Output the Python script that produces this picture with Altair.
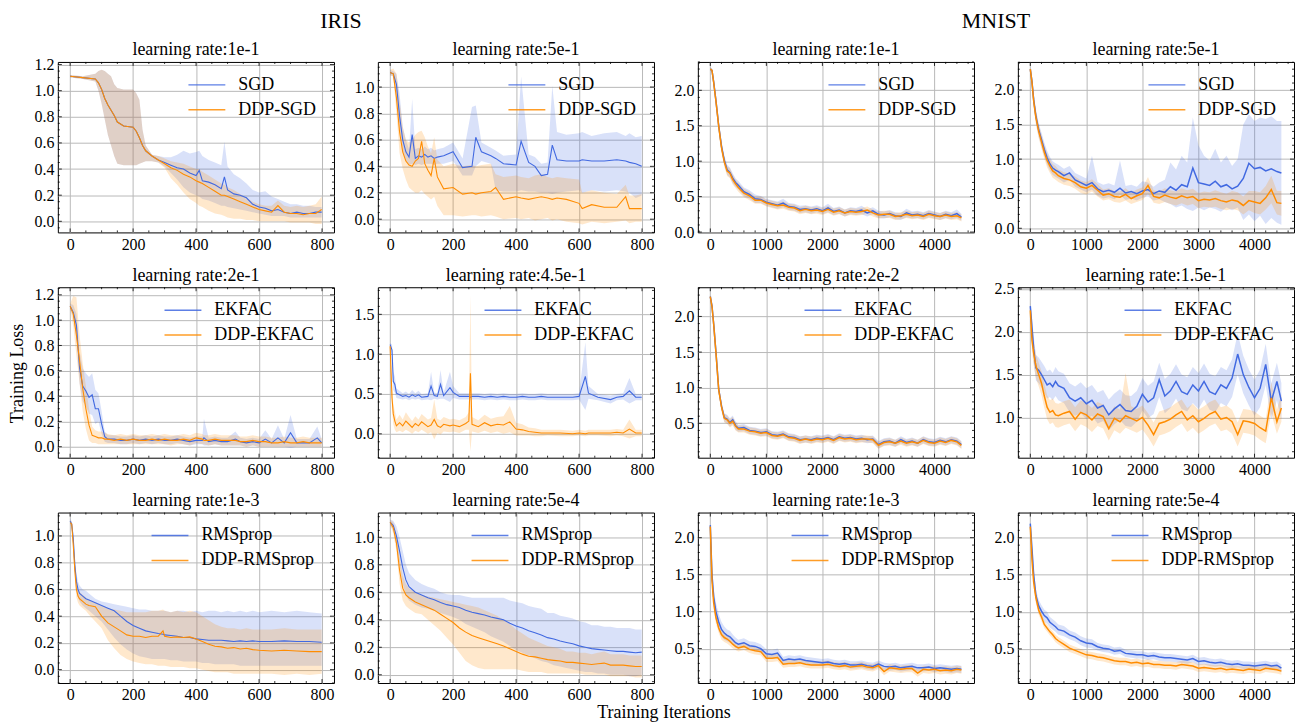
import altair as alt
import pandas as pd

FONT = "Liberation Serif"
BLUE = "#4169E1"
ORANGE = "#FF8C00"

IRIS_XDOM = [-39, 838]
MNIST_XDOM = [-222, 4705]
IRIS_XTICKS = [0, 200, 400, 600, 800]
MNIST_XTICKS = [0, 1000, 2000, 3000, 4000]

MNIST_X = [0, 30, 60, 100, 150, 200, 250, 300, 350, 400, 450,
           500, 600, 700, 800, 900, 1000, 1100, 1200, 1300, 1400,
           1500, 1600, 1700, 1800, 1900, 2000, 2100, 2200, 2300, 2400,
           2500, 2600, 2700, 2800, 2900, 3000, 3100, 3200, 3300, 3400,
           3500, 3600, 3700, 3800, 3900, 4000, 4100, 4200, 4300, 4400,
           4480]

# ---------------- IRIS / SGD, lr 1e-1 ----------------
P1_X = [0, 40, 80, 90, 100, 110, 120, 130, 140, 150, 170, 200, 210, 220, 230, 240, 260, 280,
        300, 320, 340, 360, 380, 400, 410, 420, 440, 460, 480, 490, 500, 520, 540, 560, 580,
        600, 620, 640, 660, 680, 700, 720, 740, 760, 780, 799]
P1_A = [1.11, 1.10, 1.09, 1.06, 1.01, 0.94, 0.89, 0.85, 0.81, 0.76, 0.73, 0.72, 0.69, 0.64, 0.58,
        0.54, 0.50, 0.47, 0.45, 0.43, 0.41, 0.40, 0.37, 0.35, 0.39, 0.31, 0.30, 0.28, 0.25, 0.34,
        0.24, 0.21, 0.20, 0.18, 0.13, 0.11, 0.10, 0.08, 0.09, 0.07, 0.06, 0.07, 0.06, 0.06, 0.07, 0.07]
P1_A_LO = [1.10, 1.09, 1.07, 1.00, 0.90, 0.78, 0.66, 0.58, 0.50, 0.44, 0.43, 0.43, 0.43, 0.44, 0.45,
           0.46, 0.46, 0.45, 0.42, 0.37, 0.32, 0.26, 0.22, 0.20, 0.19, 0.17, 0.16, 0.14, 0.12, 0.12,
           0.11, 0.10, 0.09, 0.08, 0.07, 0.06, 0.05, 0.04, 0.04, 0.04, 0.03, 0.03, 0.03, 0.03, 0.03, 0.03]
P1_A_HI = [1.12, 1.11, 1.13, 1.15, 1.16, 1.15, 1.13, 1.11, 1.05, 1.02, 1.01, 1.01, 0.98, 0.93, 0.70,
           0.58, 0.51, 0.50, 0.49, 0.49, 0.51, 0.54, 0.52, 0.53, 0.54, 0.50, 0.47, 0.45, 0.43, 0.61,
           0.42, 0.36, 0.33, 0.29, 0.24, 0.22, 0.23, 0.19, 0.17, 0.15, 0.13, 0.13, 0.12, 0.12, 0.11, 0.11]
P1_B = [1.11, 1.10, 1.09, 1.06, 1.01, 0.94, 0.89, 0.85, 0.81, 0.76, 0.73, 0.72, 0.69, 0.64, 0.58,
        0.54, 0.50, 0.47, 0.44, 0.41, 0.39, 0.36, 0.34, 0.31, 0.30, 0.29, 0.26, 0.23, 0.20, 0.20,
        0.19, 0.17, 0.15, 0.13, 0.11, 0.09, 0.08, 0.07, 0.12, 0.07, 0.06, 0.06, 0.05, 0.06, 0.06, 0.09]
P1_B_LO = [1.10, 1.09, 1.07, 1.00, 0.90, 0.78, 0.66, 0.58, 0.50, 0.44, 0.43, 0.43, 0.43, 0.44, 0.45,
           0.46, 0.46, 0.45, 0.41, 0.33, 0.28, 0.22, 0.17, 0.14, 0.12, 0.11, 0.08, 0.06, 0.05, 0.04,
           0.03, 0.02, 0.02, 0.01, 0.01, 0.00, 0.00, 0.00, 0.00, 0.00, -0.01, -0.01, -0.01, -0.01, -0.02, -0.02]
P1_B_HI = [1.12, 1.11, 1.13, 1.15, 1.16, 1.15, 1.13, 1.11, 1.05, 1.02, 1.01, 1.01, 0.98, 0.93, 0.70,
           0.58, 0.51, 0.50, 0.48, 0.46, 0.45, 0.44, 0.42, 0.40, 0.40, 0.38, 0.35, 0.32, 0.29, 0.28,
           0.26, 0.24, 0.21, 0.18, 0.15, 0.13, 0.12, 0.12, 0.16, 0.12, 0.11, 0.12, 0.11, 0.12, 0.13, 0.19]

# ---------------- IRIS / SGD, lr 5e-1 ----------------
P2_X = [0, 10, 20, 30, 40, 50, 60, 70, 80, 90, 100, 110, 120, 130, 140, 150, 170, 200, 230, 260, 272,
        290, 320, 335, 360, 400, 416, 440, 460, 480, 500, 515, 530, 560, 600, 610, 640, 680, 720, 748,
        760, 780, 799]
P2_A = [1.11, 1.10, 1.02, 0.78, 0.60, 0.51, 0.47, 0.64, 0.46, 0.48, 0.47, 0.49, 0.47, 0.48, 0.46, 0.47,
        0.48, 0.51, 0.39, 0.40, 0.62, 0.51, 0.48, 0.46, 0.42, 0.41, 0.59, 0.43, 0.40, 0.33, 0.34,
        0.56, 0.45, 0.44, 0.44, 0.45, 0.44, 0.44, 0.45, 0.44, 0.43, 0.42, 0.40]
P2_A_LO = [1.09, 1.08, 0.95, 0.68, 0.52, 0.44, 0.41, 0.42, 0.41, 0.42, 0.41, 0.42, 0.42, 0.42, 0.41, 0.42,
           0.42, 0.44, 0.33, 0.33, 0.40, 0.44, 0.42, 0.22, 0.21, 0.21, 0.22, 0.21, 0.21, 0.20, 0.20,
           0.19, 0.20, 0.21, 0.22, 0.20, 0.22, 0.21, 0.22, 0.21, 0.20, 0.16, 0.18]
P2_A_HI = [1.13, 1.12, 1.10, 0.95, 0.70, 0.60, 0.53, 0.91, 0.53, 0.54, 0.53, 0.55, 0.53, 0.54, 0.52, 0.53,
           0.54, 0.58, 0.46, 0.85, 0.86, 0.58, 0.54, 0.52, 0.48, 0.49, 1.08, 0.49, 0.47, 0.42, 0.43,
           1.01, 0.66, 0.64, 0.65, 0.66, 0.63, 0.65, 0.66, 0.63, 0.65, 0.62, 0.63]
P2_B = [1.11, 1.10, 0.92, 0.66, 0.51, 0.44, 0.41, 0.40, 0.44, 0.46, 0.59, 0.42, 0.37, 0.33, 0.46, 0.32,
        0.23, 0.24, 0.19, 0.20, 0.19, 0.20, 0.21, 0.24, 0.15, 0.17, 0.16, 0.15, 0.16, 0.17, 0.16,
        0.15, 0.16, 0.15, 0.12, 0.08, 0.11, 0.09, 0.09, 0.17, 0.08, 0.08, 0.08]
P2_B_LO = [1.09, 1.08, 0.80, 0.50, 0.38, 0.30, 0.24, 0.22, 0.20, 0.20, 0.22, 0.19, 0.17, 0.15, 0.17, 0.10,
           0.03, 0.03, 0.02, 0.03, 0.03, 0.02, 0.03, 0.02, 0.00, 0.01, 0.00, 0.01, -0.01, 0.00, 0.01,
           -0.01, 0.00, -0.02, -0.03, -0.04, -0.02, -0.03, -0.02, -0.01, -0.03, -0.02, -0.02]
P2_B_HI = [1.13, 1.14, 1.10, 0.90, 0.70, 0.60, 0.58, 0.60, 0.64, 0.66, 0.67, 0.62, 0.55, 0.50, 0.62, 0.45,
           0.40, 0.42, 0.40, 0.41, 0.40, 0.41, 0.42, 0.34, 0.32, 0.33, 0.32, 0.31, 0.33, 0.34, 0.32,
           0.31, 0.32, 0.31, 0.30, 0.20, 0.22, 0.20, 0.19, 0.26, 0.18, 0.18, 0.19]

# ---------------- MNIST / SGD, lr 1e-1 ----------------
P3_A = [2.30, 2.28, 2.12, 1.86, 1.50, 1.21, 1.01, 0.88, 0.84, 0.76, 0.70,
        0.66, 0.57, 0.53, 0.47, 0.46, 0.42, 0.40, 0.38, 0.41, 0.36,
        0.35, 0.32, 0.33, 0.31, 0.33, 0.30, 0.34, 0.29, 0.31, 0.27,
        0.30, 0.29, 0.31, 0.27, 0.30, 0.25, 0.24, 0.26, 0.23, 0.22,
        0.27, 0.24, 0.25, 0.23, 0.26, 0.24, 0.22, 0.25, 0.23, 0.26, 0.21]
P3_A_LO = [2.28, 2.25, 2.06, 1.79, 1.43, 1.14, 0.94, 0.81, 0.77, 0.69, 0.64,
           0.60, 0.51, 0.47, 0.41, 0.41, 0.37, 0.35, 0.33, 0.35, 0.31,
           0.30, 0.27, 0.28, 0.26, 0.28, 0.25, 0.28, 0.24, 0.26, 0.22,
           0.25, 0.24, 0.25, 0.22, 0.25, 0.20, 0.19, 0.21, 0.18, 0.17,
           0.21, 0.19, 0.20, 0.18, 0.21, 0.19, 0.17, 0.20, 0.18, 0.20, 0.16]
P3_A_HI = [2.32, 2.31, 2.18, 1.93, 1.57, 1.28, 1.08, 0.95, 0.91, 0.83, 0.76,
           0.72, 0.63, 0.59, 0.53, 0.51, 0.47, 0.45, 0.43, 0.47, 0.41,
           0.40, 0.37, 0.38, 0.36, 0.38, 0.35, 0.40, 0.34, 0.36, 0.32,
           0.35, 0.34, 0.37, 0.32, 0.35, 0.30, 0.29, 0.31, 0.28, 0.27,
           0.33, 0.29, 0.30, 0.28, 0.31, 0.29, 0.27, 0.30, 0.28, 0.32, 0.26]
P3_B = [2.30, 2.28, 2.11, 1.85, 1.49, 1.19, 0.99, 0.86, 0.83, 0.74, 0.68,
        0.63, 0.55, 0.51, 0.45, 0.45, 0.41, 0.39, 0.37, 0.38, 0.35,
        0.34, 0.30, 0.32, 0.30, 0.31, 0.29, 0.32, 0.28, 0.30, 0.27,
        0.29, 0.28, 0.29, 0.31, 0.27, 0.24, 0.25, 0.25, 0.22, 0.23,
        0.25, 0.23, 0.24, 0.22, 0.25, 0.23, 0.22, 0.24, 0.22, 0.23, 0.20]
P3_B_LO = [2.28, 2.25, 2.05, 1.78, 1.42, 1.12, 0.92, 0.79, 0.76, 0.67, 0.62,
           0.57, 0.49, 0.45, 0.40, 0.40, 0.36, 0.34, 0.32, 0.33, 0.30,
           0.29, 0.25, 0.27, 0.25, 0.26, 0.24, 0.27, 0.23, 0.25, 0.22,
           0.24, 0.23, 0.24, 0.26, 0.22, 0.19, 0.20, 0.20, 0.17, 0.18,
           0.20, 0.18, 0.19, 0.17, 0.20, 0.18, 0.17, 0.19, 0.17, 0.18, 0.15]
P3_B_HI = [2.32, 2.31, 2.17, 1.92, 1.56, 1.26, 1.06, 0.93, 0.90, 0.81, 0.74,
           0.69, 0.61, 0.57, 0.50, 0.50, 0.46, 0.44, 0.42, 0.43, 0.40,
           0.39, 0.35, 0.37, 0.35, 0.36, 0.34, 0.37, 0.33, 0.35, 0.32,
           0.34, 0.33, 0.34, 0.36, 0.32, 0.29, 0.30, 0.30, 0.27, 0.28,
           0.30, 0.28, 0.29, 0.27, 0.30, 0.28, 0.27, 0.29, 0.27, 0.28, 0.25]

# ---------------- MNIST / SGD, lr 5e-1 ----------------
P4_A = [2.30, 2.12, 1.86, 1.62, 1.42, 1.28, 1.14, 1.02, 0.93, 0.87, 0.84,
        0.82, 0.76, 0.80, 0.70, 0.66, 0.62, 0.66, 0.57, 0.53, 0.55,
        0.52, 0.58, 0.51, 0.53, 0.50, 0.54, 0.56, 0.50, 0.54, 0.52,
        0.60, 0.55, 0.63, 0.60, 0.87, 0.66, 0.64, 0.62, 0.68, 0.60,
        0.63, 0.57, 0.61, 0.72, 0.94, 0.86, 0.88, 0.83, 0.86, 0.82, 0.80]
P4_A_LO = [2.27, 2.04, 1.76, 1.52, 1.32, 1.18, 1.04, 0.92, 0.83, 0.77, 0.74,
           0.72, 0.66, 0.70, 0.60, 0.56, 0.52, 0.56, 0.47, 0.43, 0.45,
           0.42, 0.48, 0.41, 0.43, 0.40, 0.44, 0.46, 0.40, 0.42, 0.38,
           0.35, 0.30, 0.33, 0.28, 0.25, 0.30, 0.26, 0.30, 0.28, 0.24,
           0.30, 0.26, 0.30, 0.12, 0.20, 0.10, 0.18, 0.06, 0.15, 0.08, 0.05]
P4_A_HI = [2.33, 2.20, 1.96, 1.72, 1.52, 1.38, 1.24, 1.12, 1.03, 0.97, 0.94,
           0.92, 0.86, 0.90, 0.80, 0.76, 0.72, 1.05, 0.67, 0.63, 0.65,
           0.62, 0.98, 0.61, 0.63, 0.60, 0.68, 0.66, 0.60, 0.66, 0.70,
           0.95, 0.85, 1.05, 0.95, 1.60, 1.20, 1.05, 0.98, 1.15, 0.95,
           1.05, 0.90, 1.00, 1.50, 1.65, 1.55, 1.60, 1.58, 1.62, 1.55, 1.55]
P4_B = [2.30, 2.11, 1.84, 1.60, 1.40, 1.25, 1.10, 0.98, 0.90, 0.83, 0.80,
        0.76, 0.72, 0.70, 0.66, 0.60, 0.58, 0.62, 0.55, 0.48, 0.50,
        0.46, 0.45, 0.49, 0.43, 0.47, 0.50, 0.62, 0.46, 0.44, 0.48,
        0.45, 0.43, 0.47, 0.44, 0.46, 0.40, 0.42, 0.41, 0.43, 0.40,
        0.38, 0.41, 0.39, 0.33, 0.40, 0.38, 0.36, 0.44, 0.56, 0.37, 0.36]
P4_B_LO = [2.27, 2.03, 1.74, 1.50, 1.30, 1.15, 1.00, 0.88, 0.80, 0.73, 0.70,
           0.67, 0.63, 0.61, 0.57, 0.51, 0.49, 0.53, 0.46, 0.40, 0.42,
           0.38, 0.37, 0.40, 0.35, 0.38, 0.41, 0.50, 0.37, 0.35, 0.38,
           0.35, 0.33, 0.36, 0.33, 0.35, 0.29, 0.31, 0.30, 0.31, 0.28,
           0.26, 0.28, 0.26, 0.20, 0.26, 0.22, 0.20, 0.27, 0.36, 0.20, 0.18]
P4_B_HI = [2.33, 2.19, 1.94, 1.70, 1.50, 1.35, 1.20, 1.08, 1.00, 0.93, 0.90,
           0.85, 0.81, 0.79, 0.75, 0.69, 0.67, 0.71, 0.64, 0.56, 0.58,
           0.54, 0.53, 0.58, 0.51, 0.56, 0.59, 0.74, 0.55, 0.53, 0.58,
           0.55, 0.53, 0.58, 0.55, 0.57, 0.51, 0.53, 0.52, 0.55, 0.52,
           0.50, 0.54, 0.52, 0.46, 0.54, 0.54, 0.52, 0.61, 0.76, 0.54, 0.54]

# ---------------- IRIS / EKFAC, lr 2e-1 ----------------
P5_X = [0, 10, 20, 30, 40, 50, 60, 70, 80, 90, 100, 110, 120, 140, 160, 180, 200, 220, 240, 260,
        280, 300, 320, 340, 360, 380, 400, 420, 425, 440, 460, 480, 500, 525, 540, 560, 580, 600,
        620, 640, 660, 680, 700, 720, 740, 760, 785, 799]
P5_A = [1.11, 1.06, 0.96, 0.62, 0.48, 0.44, 0.39, 0.41, 0.30, 0.30, 0.18, 0.08, 0.06,
        0.06, 0.05, 0.05, 0.06, 0.05, 0.06, 0.05, 0.06, 0.05, 0.05, 0.06, 0.05, 0.04, 0.05,
        0.05, 0.07, 0.04, 0.05, 0.04, 0.04, 0.06, 0.04, 0.03, 0.04, 0.03, 0.06, 0.03, 0.07, 0.03,
        0.11, 0.03, 0.03, 0.03, 0.07, 0.03]
P5_A_LO = [1.09, 1.02, 0.88, 0.50, 0.36, 0.32, 0.26, 0.25, 0.18, 0.20, 0.10, 0.04, 0.03,
           0.03, 0.02, 0.02, 0.03, 0.02, 0.03, 0.02, 0.03, 0.02, 0.02, 0.03, 0.02, 0.01, 0.02,
           0.02, 0.01, 0.01, 0.02, 0.01, 0.01, 0.01, 0.01, 0.00, 0.01, 0.00, 0.00, 0.00, 0.00, 0.00,
           -0.01, 0.00, 0.00, 0.00, 0.00, 0.00]
P5_A_HI = [1.13, 1.12, 1.05, 0.75, 0.62, 0.58, 0.55, 0.58, 0.45, 0.42, 0.28, 0.12, 0.09,
           0.09, 0.08, 0.08, 0.09, 0.08, 0.09, 0.08, 0.09, 0.08, 0.08, 0.09, 0.08, 0.07, 0.08,
           0.08, 0.22, 0.07, 0.08, 0.07, 0.07, 0.12, 0.07, 0.06, 0.07, 0.06, 0.13, 0.06, 0.17, 0.06,
           0.25, 0.06, 0.06, 0.06, 0.16, 0.06]
P5_B = [1.11, 1.05, 0.88, 0.68, 0.46, 0.30, 0.17, 0.09, 0.08, 0.07, 0.07, 0.06, 0.06,
        0.05, 0.06, 0.05, 0.06, 0.05, 0.05, 0.06, 0.05, 0.06, 0.05, 0.05, 0.06, 0.05, 0.07,
        0.06, 0.05, 0.05, 0.06, 0.05, 0.05, 0.05, 0.04, 0.04, 0.05, 0.04, 0.04, 0.03, 0.03, 0.04,
        0.03, 0.03, 0.04, 0.03, 0.03, 0.03]
P5_B_LO = [1.09, 0.95, 0.72, 0.50, 0.28, 0.14, 0.05, 0.03, 0.03, 0.02, 0.02, 0.02, 0.02,
           0.02, 0.02, 0.02, 0.02, 0.02, 0.02, 0.02, 0.02, 0.02, 0.01, 0.02, 0.02, 0.01, 0.03,
           0.02, 0.02, 0.01, 0.02, 0.01, 0.01, 0.01, 0.01, 0.00, 0.01, 0.00, 0.00, 0.00, 0.00, 0.00,
           0.00, 0.00, 0.00, 0.00, 0.00, 0.00]
P5_B_HI = [1.13, 1.19, 1.18, 0.88, 0.66, 0.48, 0.30, 0.16, 0.13, 0.12, 0.12, 0.11, 0.10,
           0.09, 0.10, 0.09, 0.10, 0.09, 0.09, 0.10, 0.09, 0.10, 0.09, 0.09, 0.10, 0.09, 0.11,
           0.10, 0.09, 0.09, 0.10, 0.09, 0.09, 0.09, 0.08, 0.08, 0.09, 0.08, 0.08, 0.07, 0.07, 0.08,
           0.07, 0.07, 0.08, 0.07, 0.07, 0.07]

# ---------------- IRIS / EKFAC, lr 4.5e-1 ----------------
P6_X = [0, 6, 10, 15, 20, 30, 40, 50, 60, 70, 80, 90, 100, 120, 130, 140, 150, 160, 170, 190, 200,
        220, 240, 250, 255, 260, 280, 300, 320, 340, 360, 380, 400, 420, 440, 460, 480, 500, 540,
        580, 600, 620, 630, 660, 700, 720, 740, 760, 780, 799]
P6_A = [1.12, 1.05, 0.66, 0.62, 0.51, 0.49, 0.47, 0.48, 0.46, 0.49, 0.47, 0.49, 0.46,
        0.47, 0.60, 0.48, 0.47, 0.62, 0.48, 0.58, 0.52, 0.47, 0.47, 0.47, 0.46, 0.47, 0.47, 0.46,
        0.47, 0.46, 0.47, 0.46, 0.46, 0.47, 0.46, 0.46, 0.47, 0.46, 0.46, 0.46, 0.47, 0.72, 0.51,
        0.46, 0.43, 0.46, 0.47, 0.54, 0.46, 0.46]
P6_A_LO = [1.10, 0.98, 0.55, 0.52, 0.45, 0.44, 0.43, 0.44, 0.42, 0.44, 0.43, 0.44, 0.42,
           0.43, 0.42, 0.44, 0.43, 0.44, 0.44, 0.40, 0.45, 0.43, 0.43, 0.43, 0.42, 0.43, 0.43, 0.42,
           0.43, 0.42, 0.43, 0.42, 0.42, 0.43, 0.42, 0.42, 0.43, 0.42, 0.42, 0.42, 0.43, 0.30, 0.44,
           0.42, 0.38, 0.42, 0.43, 0.38, 0.42, 0.42]
P6_A_HI = [1.14, 1.12, 0.78, 0.72, 0.57, 0.54, 0.51, 0.53, 0.50, 0.55, 0.51, 0.54, 0.50,
           0.51, 0.78, 0.52, 0.51, 0.80, 0.52, 0.78, 0.60, 0.51, 0.51, 0.51, 0.50, 0.51, 0.51, 0.50,
           0.51, 0.50, 0.51, 0.50, 0.50, 0.51, 0.50, 0.50, 0.51, 0.50, 0.50, 0.50, 0.51, 1.15, 0.60,
           0.50, 0.48, 0.50, 0.51, 0.70, 0.50, 0.50]
P6_B = [1.10, 0.45, 0.25, 0.16, 0.10, 0.14, 0.10, 0.16, 0.12, 0.08, 0.13, 0.10, 0.15,
        0.09, 0.11, 0.18, 0.10, 0.08, 0.12, 0.10, 0.11, 0.09, 0.13, 0.16, 0.76, 0.12, 0.09, 0.14,
        0.10, 0.12, 0.11, 0.15, 0.06, 0.05, 0.03, 0.02, 0.01, 0.01, 0.01, 0.00, 0.01, 0.00, 0.01,
        0.01, 0.01, 0.02, 0.01, 0.06, 0.01, 0.01]
P6_B_LO = [1.08, 0.30, 0.12, 0.05, 0.02, 0.04, 0.02, 0.05, 0.03, 0.00, 0.04, 0.02, 0.05,
           0.00, 0.02, -0.07, 0.01, -0.01, 0.03, 0.02, 0.03, 0.01, 0.05, 0.05, -0.22, 0.03, 0.01, 0.04,
           0.01, 0.03, 0.00, 0.02, -0.02, -0.02, -0.02, -0.03, -0.03, -0.02, -0.03, -0.03, -0.02, -0.03,
           -0.02, -0.02, -0.03, -0.02, -0.03, -0.06, -0.03, -0.03]
P6_B_HI = [1.12, 0.60, 0.38, 0.28, 0.18, 0.24, 0.18, 0.27, 0.21, 0.16, 0.22, 0.18, 0.25,
           0.18, 0.20, 0.43, 0.19, 0.17, 0.21, 0.18, 0.19, 0.17, 0.21, 0.27, 1.75, 0.21, 0.17, 0.24,
           0.19, 0.21, 0.22, 0.35, 0.14, 0.12, 0.08, 0.07, 0.05, 0.05, 0.05, 0.04, 0.05, 0.04, 0.05,
           0.05, 0.05, 0.06, 0.05, 0.18, 0.05, 0.05]

# ---------------- MNIST / EKFAC, lr 2e-2 ----------------
P7_A = [2.28, 2.15, 1.90, 1.51, 0.98, 0.74, 0.58, 0.56, 0.51, 0.55, 0.47,
        0.43, 0.44, 0.40, 0.39, 0.37, 0.38, 0.34, 0.33, 0.35, 0.31,
        0.30, 0.27, 0.28, 0.27, 0.29, 0.28, 0.30, 0.27, 0.31, 0.29,
        0.30, 0.28, 0.29, 0.27, 0.28, 0.20, 0.24, 0.25, 0.22, 0.27,
        0.23, 0.25, 0.22, 0.27, 0.24, 0.23, 0.26, 0.24, 0.27, 0.25, 0.20]
P7_A_LO = [2.26, 2.11, 1.84, 1.44, 0.92, 0.68, 0.52, 0.50, 0.45, 0.49, 0.41,
           0.38, 0.39, 0.35, 0.34, 0.32, 0.33, 0.29, 0.28, 0.30, 0.26,
           0.25, 0.22, 0.23, 0.22, 0.24, 0.23, 0.25, 0.22, 0.26, 0.24,
           0.25, 0.23, 0.24, 0.22, 0.23, 0.15, 0.19, 0.20, 0.17, 0.22,
           0.18, 0.20, 0.17, 0.22, 0.19, 0.18, 0.21, 0.19, 0.22, 0.20, 0.15]
P7_A_HI = [2.30, 2.19, 1.96, 1.58, 1.04, 0.80, 0.64, 0.62, 0.57, 0.61, 0.53,
           0.48, 0.49, 0.45, 0.44, 0.42, 0.43, 0.39, 0.38, 0.40, 0.36,
           0.35, 0.32, 0.33, 0.32, 0.34, 0.33, 0.35, 0.32, 0.36, 0.34,
           0.35, 0.33, 0.34, 0.32, 0.33, 0.25, 0.29, 0.30, 0.27, 0.32,
           0.28, 0.30, 0.27, 0.32, 0.29, 0.28, 0.31, 0.29, 0.32, 0.30, 0.25]
P7_B = [2.28, 2.14, 1.89, 1.50, 0.97, 0.73, 0.57, 0.55, 0.50, 0.53, 0.46,
        0.42, 0.42, 0.39, 0.38, 0.36, 0.37, 0.33, 0.32, 0.34, 0.30,
        0.29, 0.26, 0.28, 0.26, 0.28, 0.27, 0.29, 0.26, 0.30, 0.28,
        0.29, 0.27, 0.28, 0.28, 0.27, 0.19, 0.23, 0.24, 0.22, 0.25,
        0.22, 0.24, 0.22, 0.26, 0.23, 0.22, 0.25, 0.23, 0.26, 0.24, 0.19]
P7_B_LO = [2.26, 2.10, 1.83, 1.43, 0.91, 0.67, 0.51, 0.49, 0.44, 0.47, 0.40,
           0.37, 0.37, 0.34, 0.33, 0.31, 0.32, 0.28, 0.27, 0.29, 0.25,
           0.24, 0.21, 0.23, 0.21, 0.23, 0.22, 0.24, 0.21, 0.25, 0.23,
           0.24, 0.22, 0.23, 0.23, 0.22, 0.14, 0.18, 0.19, 0.17, 0.20,
           0.17, 0.19, 0.17, 0.21, 0.18, 0.17, 0.20, 0.18, 0.21, 0.19, 0.14]
P7_B_HI = [2.30, 2.18, 1.95, 1.57, 1.03, 0.79, 0.63, 0.61, 0.56, 0.59, 0.52,
           0.47, 0.47, 0.44, 0.43, 0.41, 0.42, 0.38, 0.37, 0.39, 0.35,
           0.34, 0.31, 0.33, 0.31, 0.33, 0.32, 0.34, 0.31, 0.35, 0.33,
           0.34, 0.32, 0.33, 0.33, 0.32, 0.24, 0.28, 0.29, 0.27, 0.30,
           0.27, 0.29, 0.27, 0.31, 0.28, 0.27, 0.30, 0.28, 0.31, 0.29, 0.24]

# ---------------- MNIST / EKFAC, lr 1.5e-1 ----------------
P8_A = [2.30, 2.05, 1.80, 1.58, 1.55, 1.50, 1.44, 1.38, 1.40, 1.36, 1.42,
        1.37, 1.34, 1.23, 1.19, 1.23, 1.16, 1.20, 1.11, 1.14, 1.03,
        1.10, 1.15, 1.08, 1.07, 1.13, 1.27, 1.18, 1.23, 1.44, 1.25,
        1.31, 1.42, 1.30, 1.27, 1.38, 1.31, 1.42, 1.30, 1.27, 1.38,
        1.34, 1.46, 1.74, 1.50, 1.35, 1.23, 1.34, 1.62, 1.19, 1.42, 1.19]
P8_A_LO = [2.26, 1.92, 1.65, 1.43, 1.40, 1.35, 1.28, 1.22, 1.24, 1.20, 1.25,
           1.20, 1.17, 1.06, 1.02, 1.05, 0.98, 1.02, 0.93, 0.96, 0.85,
           0.92, 0.97, 0.90, 0.89, 0.95, 1.08, 0.99, 1.04, 1.24, 1.05,
           1.11, 1.22, 1.10, 1.07, 1.17, 1.10, 1.21, 1.09, 1.06, 1.17,
           1.13, 1.24, 1.50, 1.28, 1.14, 1.02, 1.12, 1.38, 0.98, 1.20, 0.98]
P8_A_HI = [2.34, 2.18, 1.95, 1.73, 1.70, 1.65, 1.60, 1.54, 1.56, 1.52, 1.59,
           1.54, 1.51, 1.40, 1.36, 1.41, 1.34, 1.38, 1.29, 1.32, 1.21,
           1.28, 1.33, 1.26, 1.25, 1.31, 1.46, 1.37, 1.42, 1.64, 1.45,
           1.51, 1.62, 1.50, 1.47, 1.59, 1.52, 1.63, 1.51, 1.48, 1.59,
           1.55, 1.68, 1.98, 1.72, 1.56, 1.44, 1.56, 1.86, 1.40, 1.64, 1.40]
P8_B = [2.25, 1.90, 1.75, 1.60, 1.50, 1.40, 1.25, 1.12, 1.06, 1.08, 1.03,
        1.02, 1.05, 1.07, 0.98, 1.06, 1.03, 0.97, 1.04, 1.01, 0.87,
        0.99, 0.95, 1.02, 0.99, 0.96, 1.00, 0.91, 0.80, 0.93, 0.95,
        0.98, 1.03, 1.07, 0.97, 1.02, 0.95, 0.99, 1.04, 1.07, 0.98,
        1.00, 0.95, 0.80, 0.96, 0.95, 0.93, 0.88, 0.84, 1.23, 0.95, 1.11]
P8_B_LO = [2.21, 1.76, 1.61, 1.46, 1.36, 1.26, 1.11, 0.98, 0.92, 0.94, 0.89,
           0.88, 0.91, 0.93, 0.84, 0.92, 0.89, 0.83, 0.90, 0.87, 0.73,
           0.85, 0.81, 0.88, 0.85, 0.82, 0.86, 0.77, 0.66, 0.79, 0.81,
           0.84, 0.89, 0.93, 0.83, 0.88, 0.81, 0.85, 0.90, 0.93, 0.84,
           0.86, 0.81, 0.66, 0.82, 0.81, 0.79, 0.74, 0.70, 1.05, 0.81, 0.95]
P8_B_HI = [2.29, 2.04, 1.89, 1.74, 1.64, 1.54, 1.39, 1.26, 1.20, 1.22, 1.17,
           1.16, 1.19, 1.21, 1.12, 1.20, 1.17, 1.11, 1.18, 1.15, 1.01,
           1.13, 1.09, 1.52, 1.13, 1.10, 1.14, 1.05, 0.94, 1.07, 1.09,
           1.12, 1.17, 1.21, 1.11, 1.16, 1.09, 1.13, 1.18, 1.21, 1.12,
           1.14, 1.09, 0.94, 1.10, 1.09, 1.07, 1.02, 0.98, 1.41, 1.09, 1.27]

# ---------------- IRIS / RMSprop, lr 1e-3 ----------------
P9_X = [0, 5, 10, 15, 20, 25, 30, 40, 50, 60, 80, 100, 120, 140, 160, 180, 200, 220, 240, 260, 280,
        295, 300, 320, 340, 360, 380, 400, 420, 440, 460, 480, 500, 520, 540, 560, 580, 600, 640,
        680, 720, 760, 799]
P9_A = [1.11, 1.09, 0.98, 0.78, 0.66, 0.60, 0.57, 0.55, 0.53, 0.52, 0.50, 0.48, 0.46, 0.44, 0.40,
        0.36, 0.33, 0.31, 0.29, 0.28, 0.27, 0.265, 0.26, 0.255, 0.25, 0.24, 0.24, 0.23, 0.225, 0.22,
        0.22, 0.22, 0.215, 0.21, 0.215, 0.21, 0.215, 0.21, 0.21, 0.215, 0.21, 0.21, 0.205]
P9_A_LO = [1.09, 1.07, 0.94, 0.72, 0.60, 0.54, 0.51, 0.48, 0.46, 0.44, 0.40, 0.36, 0.30, 0.24, 0.19,
           0.15, 0.12, 0.10, 0.09, 0.08, 0.08, 0.08, 0.08, 0.07, 0.07, 0.06, 0.06, 0.06, 0.05, 0.05,
           0.04, 0.04, 0.04, 0.04, 0.03, 0.03, 0.03, 0.03, 0.03, 0.03, 0.03, 0.03, 0.03]
P9_A_HI = [1.13, 1.11, 1.02, 0.84, 0.72, 0.66, 0.63, 0.60, 0.59, 0.57, 0.53, 0.51, 0.50, 0.49, 0.48,
           0.47, 0.46, 0.45, 0.45, 0.44, 0.44, 0.44, 0.44, 0.43, 0.44, 0.44, 0.43, 0.44, 0.43, 0.44,
           0.44, 0.43, 0.44, 0.43, 0.44, 0.43, 0.44, 0.43, 0.44, 0.43, 0.44, 0.43, 0.42]
P9_B = [1.10, 1.09, 0.93, 0.74, 0.60, 0.55, 0.53, 0.51, 0.49, 0.48, 0.47, 0.40, 0.35, 0.32, 0.29,
        0.26, 0.25, 0.25, 0.24, 0.25, 0.25, 0.29, 0.25, 0.24, 0.245, 0.24, 0.245, 0.23, 0.21, 0.19,
        0.175, 0.17, 0.16, 0.165, 0.155, 0.16, 0.15, 0.145, 0.14, 0.145, 0.14, 0.135, 0.135]
P9_B_LO = [1.08, 1.07, 0.88, 0.68, 0.54, 0.50, 0.48, 0.46, 0.44, 0.41, 0.36, 0.31, 0.22, 0.16, 0.11,
           0.08, 0.06, 0.05, 0.04, 0.04, 0.03, 0.03, 0.03, 0.02, 0.02, 0.02, 0.01, 0.01, 0.00, -0.01,
           -0.02, -0.02, -0.02, -0.03, -0.03, -0.03, -0.03, -0.03, -0.03, -0.04, -0.03, -0.04, -0.03]
P9_B_HI = [1.12, 1.11, 0.98, 0.80, 0.66, 0.60, 0.58, 0.56, 0.54, 0.52, 0.50, 0.48, 0.46, 0.45, 0.44,
           0.43, 0.43, 0.43, 0.43, 0.44, 0.44, 0.45, 0.44, 0.43, 0.44, 0.43, 0.44, 0.43, 0.40, 0.37,
           0.34, 0.32, 0.31, 0.31, 0.30, 0.31, 0.30, 0.30, 0.30, 0.31, 0.30, 0.30, 0.30]

# ---------------- IRIS / RMSprop, lr 5e-4 ----------------
P10_X = [0, 10, 20, 30, 40, 50, 60, 80, 100, 120, 140, 160, 180, 200, 220, 240, 260, 280, 300, 320,
         340, 360, 380, 400, 420, 440, 460, 480, 500, 520, 540, 560, 580, 600, 620, 640, 660, 680,
         700, 720, 740, 760, 780, 799]
P10_A = [1.11, 1.085, 1.01, 0.90, 0.78, 0.69, 0.64,
         0.60, 0.58, 0.56, 0.545, 0.525, 0.51, 0.50, 0.49, 0.47, 0.455,
         0.445, 0.435, 0.42, 0.41, 0.40, 0.375, 0.355, 0.34, 0.32, 0.305,
         0.29, 0.27, 0.26, 0.245, 0.235, 0.225, 0.21, 0.20, 0.19, 0.185,
         0.18, 0.175, 0.17, 0.17, 0.165, 0.16, 0.165]
P10_A_LO = [1.09, 1.05, 0.94, 0.80, 0.66, 0.58, 0.54,
            0.51, 0.49, 0.48, 0.465, 0.45, 0.435, 0.42, 0.40, 0.37, 0.35,
            0.33, 0.31, 0.28, 0.26, 0.24, 0.21, 0.18, 0.16, 0.14, 0.12,
            0.10, 0.09, 0.07, 0.06, 0.05, 0.04, 0.03, 0.02, 0.02, 0.01,
            0.01, 0.00, 0.00, 0.00, -0.01, -0.01, 0.00]
P10_A_HI = [1.13, 1.12, 1.08, 1.00, 0.90, 0.80, 0.74,
            0.69, 0.66, 0.64, 0.625, 0.60, 0.585, 0.58, 0.58, 0.57, 0.56,
            0.56, 0.56, 0.56, 0.56, 0.56, 0.54, 0.53, 0.52, 0.50, 0.49,
            0.48, 0.45, 0.45, 0.43, 0.42, 0.41, 0.39, 0.38, 0.36, 0.36,
            0.35, 0.35, 0.34, 0.34, 0.34, 0.33, 0.33]
P10_B = [1.11, 1.07, 0.96, 0.76, 0.63, 0.58, 0.56,
         0.53, 0.51, 0.49, 0.47, 0.44, 0.41, 0.38, 0.34, 0.31, 0.285,
         0.27, 0.255, 0.24, 0.225, 0.21, 0.19, 0.17, 0.15, 0.135, 0.13,
         0.12, 0.11, 0.105, 0.10, 0.09, 0.09, 0.085, 0.08, 0.075, 0.08,
         0.085, 0.07, 0.07, 0.07, 0.065, 0.06, 0.06]
P10_B_LO = [1.09, 1.03, 0.90, 0.66, 0.54, 0.50, 0.48,
            0.45, 0.44, 0.40, 0.36, 0.32, 0.27, 0.22, 0.16, 0.10, 0.07,
            0.05, 0.04, 0.04, 0.04, 0.04, 0.04, 0.04, 0.03, 0.02, 0.02,
            0.02, 0.01, 0.01, 0.01, 0.01, 0.01, 0.01, 0.00, 0.00, 0.00,
            0.00, -0.01, -0.01, -0.01, -0.01, -0.02, -0.02]
P10_B_HI = [1.13, 1.11, 1.02, 0.86, 0.72, 0.66, 0.63,
            0.60, 0.58, 0.57, 0.56, 0.55, 0.54, 0.53, 0.52, 0.51, 0.50,
            0.49, 0.47, 0.45, 0.43, 0.40, 0.37, 0.33, 0.30, 0.27, 0.25,
            0.23, 0.21, 0.20, 0.19, 0.17, 0.17, 0.16, 0.16, 0.15, 0.16,
            0.17, 0.15, 0.15, 0.15, 0.14, 0.14, 0.14]

# ---------------- MNIST / RMSprop, lr 1e-3 ----------------
P11_A = [2.17, 1.50, 1.20, 1.00, 0.86, 0.76, 0.71, 0.68, 0.66, 0.62, 0.58,
         0.56, 0.58, 0.54, 0.53, 0.50, 0.43, 0.42, 0.44, 0.34, 0.36,
         0.35, 0.36, 0.34, 0.33, 0.32, 0.31, 0.32, 0.30, 0.29, 0.30,
         0.28, 0.28, 0.29, 0.27, 0.26, 0.29, 0.26, 0.25, 0.26, 0.24,
         0.25, 0.26, 0.24, 0.24, 0.25, 0.23, 0.24, 0.23, 0.22, 0.23, 0.22]
P11_A_LO = [2.13, 1.38, 1.08, 0.88, 0.75, 0.66, 0.62, 0.60, 0.58, 0.55, 0.51,
            0.50, 0.52, 0.48, 0.47, 0.44, 0.37, 0.36, 0.38, 0.29, 0.31,
            0.30, 0.31, 0.29, 0.28, 0.27, 0.26, 0.27, 0.25, 0.24, 0.25,
            0.23, 0.23, 0.24, 0.22, 0.21, 0.24, 0.21, 0.20, 0.21, 0.19,
            0.20, 0.21, 0.19, 0.19, 0.20, 0.18, 0.19, 0.18, 0.17, 0.18, 0.17]
P11_A_HI = [2.21, 1.62, 1.32, 1.12, 0.97, 0.86, 0.80, 0.76, 0.74, 0.69, 0.65,
            0.62, 0.64, 0.60, 0.59, 0.56, 0.49, 0.48, 0.50, 0.39, 0.41,
            0.40, 0.41, 0.39, 0.38, 0.37, 0.36, 0.37, 0.35, 0.34, 0.35,
            0.33, 0.33, 0.34, 0.32, 0.31, 0.34, 0.31, 0.30, 0.31, 0.29,
            0.30, 0.31, 0.29, 0.29, 0.30, 0.28, 0.29, 0.28, 0.27, 0.28, 0.27]
P11_B = [2.15, 1.42, 1.12, 0.92, 0.78, 0.69, 0.65, 0.63, 0.60, 0.56, 0.53,
         0.51, 0.53, 0.49, 0.47, 0.46, 0.37, 0.37, 0.38, 0.29, 0.30,
         0.30, 0.31, 0.29, 0.28, 0.28, 0.28, 0.29, 0.27, 0.26, 0.27,
         0.25, 0.26, 0.27, 0.25, 0.24, 0.27, 0.19, 0.24, 0.23, 0.22,
         0.23, 0.23, 0.17, 0.22, 0.21, 0.22, 0.20, 0.21, 0.20, 0.22, 0.21]
P11_B_LO = [2.11, 1.32, 1.03, 0.84, 0.71, 0.62, 0.59, 0.57, 0.54, 0.50, 0.48,
            0.46, 0.48, 0.44, 0.42, 0.41, 0.32, 0.32, 0.33, 0.24, 0.25,
            0.25, 0.26, 0.24, 0.23, 0.23, 0.23, 0.24, 0.22, 0.21, 0.22,
            0.20, 0.21, 0.22, 0.20, 0.19, 0.22, 0.14, 0.19, 0.18, 0.17,
            0.18, 0.18, 0.12, 0.17, 0.16, 0.17, 0.15, 0.16, 0.15, 0.17, 0.16]
P11_B_HI = [2.19, 1.52, 1.21, 1.00, 0.85, 0.76, 0.71, 0.69, 0.66, 0.62, 0.58,
            0.56, 0.58, 0.54, 0.52, 0.51, 0.42, 0.42, 0.43, 0.34, 0.35,
            0.35, 0.36, 0.34, 0.33, 0.33, 0.33, 0.34, 0.32, 0.31, 0.32,
            0.30, 0.31, 0.32, 0.30, 0.29, 0.32, 0.24, 0.29, 0.28, 0.27,
            0.28, 0.28, 0.22, 0.27, 0.26, 0.27, 0.25, 0.26, 0.25, 0.27, 0.26]

# ---------------- MNIST / RMSprop, lr 5e-4 ----------------
P12_A = [2.19, 1.85, 1.50, 1.22, 1.08, 1.01, 0.95, 0.92, 0.86, 0.83, 0.80,
         0.76, 0.74, 0.69, 0.66, 0.61, 0.58, 0.57, 0.53, 0.51, 0.50,
         0.47, 0.48, 0.44, 0.43, 0.42, 0.42, 0.40, 0.41, 0.39, 0.38,
         0.38, 0.37, 0.36, 0.35, 0.37, 0.33, 0.34, 0.32, 0.31, 0.32,
         0.30, 0.29, 0.30, 0.28, 0.28, 0.27, 0.28, 0.29, 0.27, 0.28, 0.24]
P12_A_LO = [2.16, 1.76, 1.40, 1.13, 1.00, 0.93, 0.87, 0.84, 0.79, 0.76, 0.73,
            0.69, 0.67, 0.63, 0.60, 0.55, 0.52, 0.51, 0.48, 0.46, 0.45,
            0.42, 0.43, 0.39, 0.38, 0.37, 0.37, 0.35, 0.36, 0.34, 0.33,
            0.33, 0.32, 0.31, 0.30, 0.32, 0.28, 0.29, 0.27, 0.26, 0.27,
            0.25, 0.24, 0.25, 0.23, 0.23, 0.22, 0.23, 0.24, 0.22, 0.23, 0.19]
P12_A_HI = [2.22, 1.94, 1.60, 1.31, 1.16, 1.09, 1.03, 1.00, 0.93, 0.90, 0.87,
            0.83, 0.81, 0.75, 0.72, 0.67, 0.64, 0.63, 0.58, 0.56, 0.55,
            0.52, 0.53, 0.49, 0.48, 0.47, 0.47, 0.45, 0.46, 0.44, 0.43,
            0.43, 0.42, 0.41, 0.40, 0.42, 0.38, 0.39, 0.37, 0.36, 0.37,
            0.35, 0.34, 0.35, 0.33, 0.33, 0.32, 0.33, 0.34, 0.32, 0.33, 0.29]
P12_B = [2.15, 1.70, 1.40, 1.19, 1.02, 0.93, 0.83, 0.78, 0.73, 0.69, 0.64,
         0.61, 0.56, 0.51, 0.48, 0.45, 0.42, 0.41, 0.39, 0.38, 0.36,
         0.34, 0.33, 0.33, 0.31, 0.32, 0.30, 0.31, 0.29, 0.29, 0.28,
         0.28, 0.27, 0.29, 0.28, 0.27, 0.24, 0.25, 0.24, 0.23, 0.24,
         0.22, 0.23, 0.22, 0.21, 0.23, 0.22, 0.21, 0.24, 0.23, 0.22, 0.20]
P12_B_LO = [2.12, 1.62, 1.32, 1.12, 0.96, 0.87, 0.78, 0.73, 0.68, 0.64, 0.59,
            0.56, 0.51, 0.46, 0.43, 0.40, 0.37, 0.36, 0.34, 0.33, 0.31,
            0.29, 0.28, 0.28, 0.26, 0.27, 0.25, 0.26, 0.24, 0.24, 0.23,
            0.23, 0.22, 0.24, 0.23, 0.22, 0.19, 0.20, 0.19, 0.18, 0.19,
            0.17, 0.18, 0.17, 0.16, 0.18, 0.17, 0.16, 0.19, 0.18, 0.17, 0.15]
P12_B_HI = [2.18, 1.78, 1.48, 1.26, 1.08, 0.99, 0.88, 0.83, 0.78, 0.74, 0.69,
            0.66, 0.61, 0.56, 0.53, 0.50, 0.47, 0.46, 0.44, 0.43, 0.41,
            0.39, 0.38, 0.38, 0.36, 0.37, 0.35, 0.36, 0.34, 0.34, 0.33,
            0.33, 0.32, 0.34, 0.33, 0.32, 0.29, 0.30, 0.29, 0.28, 0.29,
            0.27, 0.28, 0.27, 0.26, 0.28, 0.27, 0.26, 0.29, 0.28, 0.27, 0.25]

Y_02_12 = [0.0, 0.2, 0.4, 0.6, 0.8, 1.0, 1.2]
Y_02_10 = [0.0, 0.2, 0.4, 0.6, 0.8, 1.0]
Y_05_00 = [0.0, 0.5, 1.0, 1.5, 2.0]
Y_05_05 = [0.5, 1.0, 1.5, 2.0]
Y_05_15 = [0.0, 0.5, 1.0, 1.5]
Y_05_10 = [1.0, 1.5, 2.0, 2.5]

W, H = 277, 171
HSP, VSP = 44, 55          # gaps between plot frames
LEG_LEN, LEG_GAP, LEG_Y0, LEG_DY = 37, 13, 23, 25


def minor_ticks(major, sub, dom):
    step = (major[1] - major[0]) / sub
    lo, hi = min(dom), max(dom)
    out = []
    v = major[0]
    while v - step >= lo - 1e-9:
        v -= step
    while v <= hi + 1e-9:
        if all(abs(v - m) > step * 0.01 for m in major):
            out.append(round(v, 6))
        v += step
    return out


def text_layer(txt, x, y, size, angle=0, align="center"):
    return alt.Chart(pd.DataFrame({"t": [txt]})).mark_text(
        font=FONT, fontSize=size, color="black", align=align,
        baseline="middle" if (angle or align == "left") else "alphabetic", angle=angle
    ).encode(text="t:N", x=alt.value(x), y=alt.value(y))


def panel(title, names, xs, a, a_lo, a_hi, b, b_lo, b_hi, xdom, xticks, xsub, ydom, yticks, ysub,
          leg_x, line_w=1.1, extra=()):
    for arr in (a, a_lo, a_hi, b, b_lo, b_hi):
        if len(arr) != len(xs):
            raise ValueError(f"{title} {names}: length {len(arr)} != {len(xs)}")
    rows = []
    for nm, m, lo, hi in ((names[0], a, a_lo, a_hi), (names[1], b, b_lo, b_hi)):
        for i, x in enumerate(xs):
            rows.append({"x": x, "series": nm, "mean": m[i], "lo": lo[i], "hi": hi[i]})
    df = pd.DataFrame(rows)

    xscale = alt.Scale(domain=xdom, nice=False, zero=False)
    yscale = alt.Scale(domain=ydom, nice=False, zero=False)
    xaxis = alt.Axis(values=xticks, format="d", title=None)
    yaxis = alt.Axis(values=yticks, format=".1f", title=None)
    cscale = alt.Scale(domain=names, range=[BLUE, ORANGE])

    base = alt.Chart(df)
    band = base.mark_area(opacity=0.2, clip=True).encode(
        x=alt.X("x:Q", scale=xscale, axis=xaxis),
        y=alt.Y("lo:Q", scale=yscale, axis=yaxis),
        y2="hi:Q",
        fill=alt.Fill("series:N", scale=cscale, legend=None),
    )
    layers = [band]
    for nm in names:
        ln = base.transform_filter(alt.datum.series == nm).mark_line(
            clip=True, strokeWidth=line_w
        ).encode(
            x=alt.X("x:Q", scale=xscale, axis=xaxis),
            y=alt.Y("mean:Q", scale=yscale, axis=yaxis),
            color=alt.Color("series:N", scale=cscale, legend=None),
        )
        layers.append(ln)

    # inward major / minor ticks on all four sides
    xmin = minor_ticks(xticks, xsub, xdom)
    ymin = minor_ticks(yticks, ysub, ydom)
    xmaj = [v for v in xticks if xdom[0] <= v <= xdom[1]]
    ymaj = [v for v in yticks if ydom[0] <= v <= ydom[1]]
    for vals, length in ((xmaj, 4), (xmin, 2)):
        tdf = pd.DataFrame({"v": vals})
        for y0, y1 in ((0, length), (H, H - length)):
            layers.append(alt.Chart(tdf).mark_rule(color="black", strokeWidth=0.8).encode(
                x=alt.X("v:Q", scale=xscale, axis=xaxis),
                y=alt.value(y0), y2=alt.value(y1)))
    for vals, length in ((ymaj, 4), (ymin, 2)):
        tdf = pd.DataFrame({"v": vals})
        for x0, x1 in ((0, length), (W, W - length)):
            layers.append(alt.Chart(tdf).mark_rule(color="black", strokeWidth=0.8).encode(
                y=alt.Y("v:Q", scale=yscale, axis=yaxis),
                x=alt.value(x0), x2=alt.value(x1)))

    # legend (upper right, inside the frame)
    for k, nm in enumerate(names):
        ldf = pd.DataFrame({"series": [nm]})
        yk = LEG_Y0 + LEG_DY * k
        layers.append(alt.Chart(ldf).mark_rule(strokeWidth=1.5, opacity=0.85).encode(
            x=alt.value(leg_x), x2=alt.value(leg_x + LEG_LEN), y=alt.value(yk),
            color=alt.Color("series:N", scale=cscale, legend=None)))
        layers.append(text_layer(nm, leg_x + LEG_LEN + LEG_GAP, yk, 18, align="left"))

    layers.append(text_layer(title, W / 2, -6.5, 18))
    for e in extra:
        layers.append(text_layer(*e))
    return alt.layer(*layers).properties(width=W, height=H)


SGD = ["SGD", "DDP-SGD"]
EK = ["EKFAC", "DDP-EKFAC"]
RMS = ["RMSprop", "DDP-RMSprop"]
MID = W + HSP / 2
LX_SGD, LX_EK, LX_RMS = 131, 107, 94
MW = 1.5   # MNIST curves are denser / noisier

p1 = panel("learning rate:1e-1", SGD, P1_X, P1_A, P1_A_LO, P1_A_HI, P1_B, P1_B_LO, P1_B_HI,
           IRIS_XDOM, IRIS_XTICKS, 4, [-0.085, 1.22], Y_02_12, 4, LX_SGD,
           extra=[("IRIS", W + 7, -34, 22)])
p2 = panel("learning rate:5e-1", SGD, P2_X, P2_A, P2_A_LO, P2_A_HI, P2_B, P2_B_LO, P2_B_HI,
           IRIS_XDOM, IRIS_XTICKS, 4, [-0.10, 1.19], Y_02_10, 4, LX_SGD)
p3 = panel("learning rate:1e-1", SGD, MNIST_X, P3_A, P3_A_LO, P3_A_HI, P3_B, P3_B_LO, P3_B_HI,
           MNIST_XDOM, MNIST_XTICKS, 5, [-0.005, 2.40], Y_05_00, 5, LX_SGD, MW,
           extra=[("MNIST", MID, -34, 22)])
p4 = panel("learning rate:5e-1", SGD, MNIST_X, P4_A, P4_A_LO, P4_A_HI, P4_B, P4_B_LO, P4_B_HI,
           MNIST_XDOM, MNIST_XTICKS, 5, [-0.06, 2.405], Y_05_00, 5, LX_SGD, MW)
p5 = panel("learning rate:2e-1", EK, P5_X, P5_A, P5_A_LO, P5_A_HI, P5_B, P5_B_LO, P5_B_HI,
           IRIS_XDOM, IRIS_XTICKS, 4, [-0.087, 1.26], Y_02_12, 4, LX_EK,
           extra=[("Training Loss", -40, H / 2 + 1, 18, 270)])
p6 = panel("learning rate:4.5e-1", EK, P6_X, P6_A, P6_A_LO, P6_A_HI, P6_B, P6_B_LO, P6_B_HI,
           IRIS_XDOM, IRIS_XTICKS, 4, [-0.30, 1.84], Y_05_15, 5, LX_EK)
p7 = panel("learning rate:2e-2", EK, MNIST_X, P7_A, P7_A_LO, P7_A_HI, P7_B, P7_B_LO, P7_B_HI,
           MNIST_XDOM, MNIST_XTICKS, 5, [0.017, 2.41], Y_05_05, 5, LX_EK, MW)
p8 = panel("learning rate:1.5e-1", EK, MNIST_X, P8_A, P8_A_LO, P8_A_HI, P8_B, P8_B_LO, P8_B_HI,
           MNIST_XDOM, MNIST_XTICKS, 5, [0.53, 2.52], Y_05_10, 5, LX_EK, MW)
p9 = panel("learning rate:1e-3", RMS, P9_X, P9_A, P9_A_LO, P9_A_HI, P9_B, P9_B_LO, P9_B_HI,
           IRIS_XDOM, IRIS_XTICKS, 4, [-0.10, 1.175], Y_02_10, 4, LX_RMS)
p10 = panel("learning rate:5e-4", RMS, P10_X, P10_A, P10_A_LO, P10_A_HI, P10_B, P10_B_LO, P10_B_HI,
            IRIS_XDOM, IRIS_XTICKS, 4, [-0.06, 1.18], Y_02_10, 4, LX_RMS,
            extra=[("Training Iterations", W + 10, H + 35, 18)])
p11 = panel("learning rate:1e-3", RMS, MNIST_X, P11_A, P11_A_LO, P11_A_HI, P11_B, P11_B_LO, P11_B_HI,
            MNIST_XDOM, MNIST_XTICKS, 5, [0.035, 2.34], Y_05_05, 5, LX_RMS, MW)
p12 = panel("learning rate:5e-4", RMS, MNIST_X, P12_A, P12_A_LO, P12_A_HI, P12_B, P12_B_LO, P12_B_HI,
            MNIST_XDOM, MNIST_XTICKS, 5, [0.04, 2.34], Y_05_05, 5, LX_RMS, MW)

chart = alt.concat(
    p1, p2, p3, p4, p5, p6, p7, p8, p9, p10, p11, p12,
    columns=4, spacing={"row": VSP, "column": HSP}, bounds="flush"
).resolve_scale(
    color="independent", fill="independent"
).properties(
    padding={"left": 0, "top": 0, "right": 0, "bottom": 0}
).configure_view(
    stroke="black", strokeWidth=1
).configure_axis(
    labelFont=FONT, labelFontSize=16, labelColor="black", grid=True, gridColor="#b9b9b9",
    gridWidth=1, domain=False, ticks=False, labelPadding=4
)

chart.save("out.html", embed_options={"renderer": "svg", "actions": False})
